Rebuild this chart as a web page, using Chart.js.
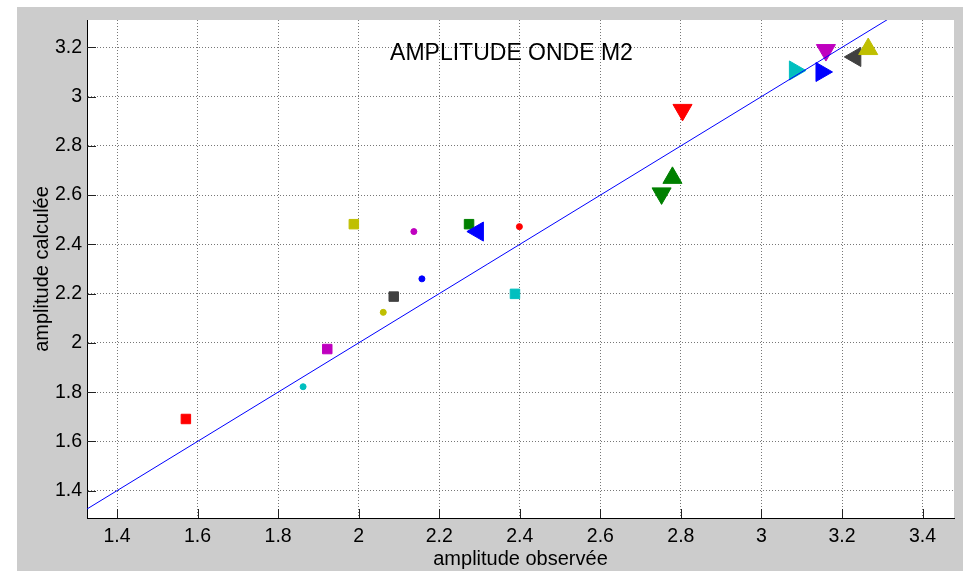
<!DOCTYPE html>
<html><head><meta charset="utf-8">
<script src="https://cdn.jsdelivr.net/npm/chart.js@4.4.1/dist/chart.umd.min.js"></script>
<style>html,body{margin:0;padding:0;background:#fff;overflow:hidden}canvas{display:block}</style>
</head><body>
<canvas id="c" width="967" height="571"></canvas>
<script>
// ---- data ----
const xTickValues = [1.4, 1.6, 1.8, 2, 2.2, 2.4, 2.6, 2.8, 3, 3.2, 3.4];
const yTickValues = [1.4, 1.6, 1.8, 2, 2.2, 2.4, 2.6, 2.8, 3, 3.2];
const xRange = [1.3255, 3.478];
const yRange = [1.289, 3.311];
const chartTitle = 'AMPLITUDE ONDE M2';
const xLabel = 'amplitude observée';
const yLabel = 'amplitude calculée';

// square markers
const squareObs  = [1.571, 1.922, 2.087, 1.988, 2.274, 2.388];
const squareCalc = [1.691, 1.975, 2.188, 2.482, 2.482, 2.199];
// small dot markers
const dotObs  = [1.862, 2.061, 2.157, 2.137, 2.399];
const dotCalc = [1.822, 2.124, 2.260, 2.452, 2.472];
// triangle markers
const triObs  = [2.296, 2.779, 2.752, 2.804, 3.083, 3.160, 3.149, 3.233, 3.265];
const triCalc = [2.452, 2.670, 2.607, 2.946, 3.106, 3.189, 3.100, 3.161, 3.193];
// reference line y = x
const refLineX = [1.3, 3.35];

// ---- styles ----
const squareColors = ['#ff0000', '#bf00bf', '#404040', '#bfbf00', '#008000', '#00bfbf'];
const dotColors = ['#00bfbf', '#bfbf00', '#0000ff', '#bf00bf', '#ff0000'];
const triColors = ['#0000ff', '#008000', '#008000', '#ff0000', '#00bfbf', '#bf00bf', '#0000ff', '#404040', '#bfbf00'];
const triDirections = ['left', 'up', 'down', 'down', 'right', 'down', 'right', 'left', 'up'];
const rotationOf = {up: 0, right: 90, down: 180, left: 270};

const FONT = "'Liberation Sans', Arial, Helvetica, sans-serif";
const TICKFONT = "'Liberation Sans Narrow', 'Liberation Sans', Arial, sans-serif";

const zip = (xs, ys) => xs.map((x, i) => ({x: x, y: ys[i]}));

const framePlugin = {
  id: 'frame',
  beforeDraw(chart) {
    const ctx = chart.ctx, a = chart.chartArea;
    ctx.save();
    ctx.fillStyle = '#ffffff';
    ctx.fillRect(0, 0, chart.width, chart.height);
    ctx.fillStyle = '#cccccc';
    ctx.fillRect(17, 7, 946, chart.height - 7);
    ctx.fillStyle = '#ffffff';
    ctx.fillRect(a.left, a.top, a.right - a.left, a.bottom - a.top);
    ctx.restore();
  },
  beforeDatasetsDraw(chart) {
    const ctx = chart.ctx, a = chart.chartArea;
    ctx.save();
    ctx.fillStyle = '#000';
    ctx.font = '23px ' + FONT;
    ctx.textAlign = 'center';
    ctx.textBaseline = 'alphabetic';
    ctx.fillText(chartTitle, 511.5, 60);
    // inward tick marks
    ctx.strokeStyle = '#222';
    ctx.lineWidth = 1;
    ctx.beginPath();
    const xs = chart.scales.x, ys = chart.scales.y;
    xs.ticks.forEach(t => {
      const px = Math.round(xs.getPixelForValue(t.value)) + 0.5;
      ctx.moveTo(px, a.bottom);
      ctx.lineTo(px, a.bottom - 9);
    });
    ys.ticks.forEach(t => {
      const py = Math.round(ys.getPixelForValue(t.value)) + 0.5;
      ctx.moveTo(a.left, py);
      ctx.lineTo(a.left + 9, py);
    });
    ctx.stroke();
    ctx.restore();
  }
};

const fmt = v => String(Math.round(v * 10) / 10);

new Chart(document.getElementById('c'), {
  type: 'scatter',
  data: {
    datasets: [
      {
        type: 'line',
        data: zip(refLineX, refLineX),
        borderColor: '#0000ff',
        borderWidth: 1,
        pointRadius: 0,
        fill: false,
        tension: 0
      },
      {
        data: zip(triObs, triCalc),
        pointStyle: 'triangle',
        pointRadius: 11,
        pointRotation: triDirections.map(d => rotationOf[d]),
        backgroundColor: triColors,
        borderColor: triColors,
        borderWidth: 1
      },
      {
        data: zip(squareObs, squareCalc),
        pointStyle: 'rect',
        pointRadius: 6.7,
        backgroundColor: squareColors,
        borderColor: squareColors,
        borderWidth: 1
      },
      {
        data: zip(dotObs, dotCalc),
        pointStyle: 'circle',
        pointRadius: 3,
        backgroundColor: dotColors,
        borderColor: dotColors,
        borderWidth: 1
      }
    ]
  },
  options: {
    responsive: false,
    animation: false,
    events: [],
    layout: {padding: {left: 0, top: 20, right: 13, bottom: 0}},
    plugins: {legend: {display: false}, tooltip: {enabled: false}, title: {display: false}},
    scales: {
      x: {
        type: 'linear',
        min: xRange[0], max: xRange[1],
        afterBuildTicks: s => { s.ticks = xTickValues.map(v => ({value: v})); },
        afterFit: s => { s.height = 53; },
        ticks: {callback: fmt, color: '#000', padding: 7, maxRotation: 0, autoSkip: false,
                font: {family: TICKFONT, size: 19.5}},
        grid: {color: '#777', lineWidth: 1, drawTicks: false},
        border: {display: true, color: '#000', width: 1, dash: [1, 2]},
        title: {display: true, text: xLabel, color: '#000', padding: {top: 0, bottom: 0},
                font: {family: FONT, size: 20}}
      },
      y: {
        type: 'linear',
        min: yRange[0], max: yRange[1],
        afterBuildTicks: s => { s.ticks = yTickValues.map(v => ({value: v})); },
        afterFit: s => { s.width = 87; },
        ticks: {callback: fmt, color: '#000', padding: 5, autoSkip: false,
                font: {family: TICKFONT, size: 19.5}},
        grid: {color: '#777', lineWidth: 1, drawTicks: false},
        border: {display: true, color: '#000', width: 1, dash: [1, 2]},
        title: {display: true, text: yLabel, color: '#000', padding: {top: 30, bottom: 0},
                font: {family: FONT, size: 20}}
      }
    }
  },
  plugins: [framePlugin]
});
</script>
</body></html>
